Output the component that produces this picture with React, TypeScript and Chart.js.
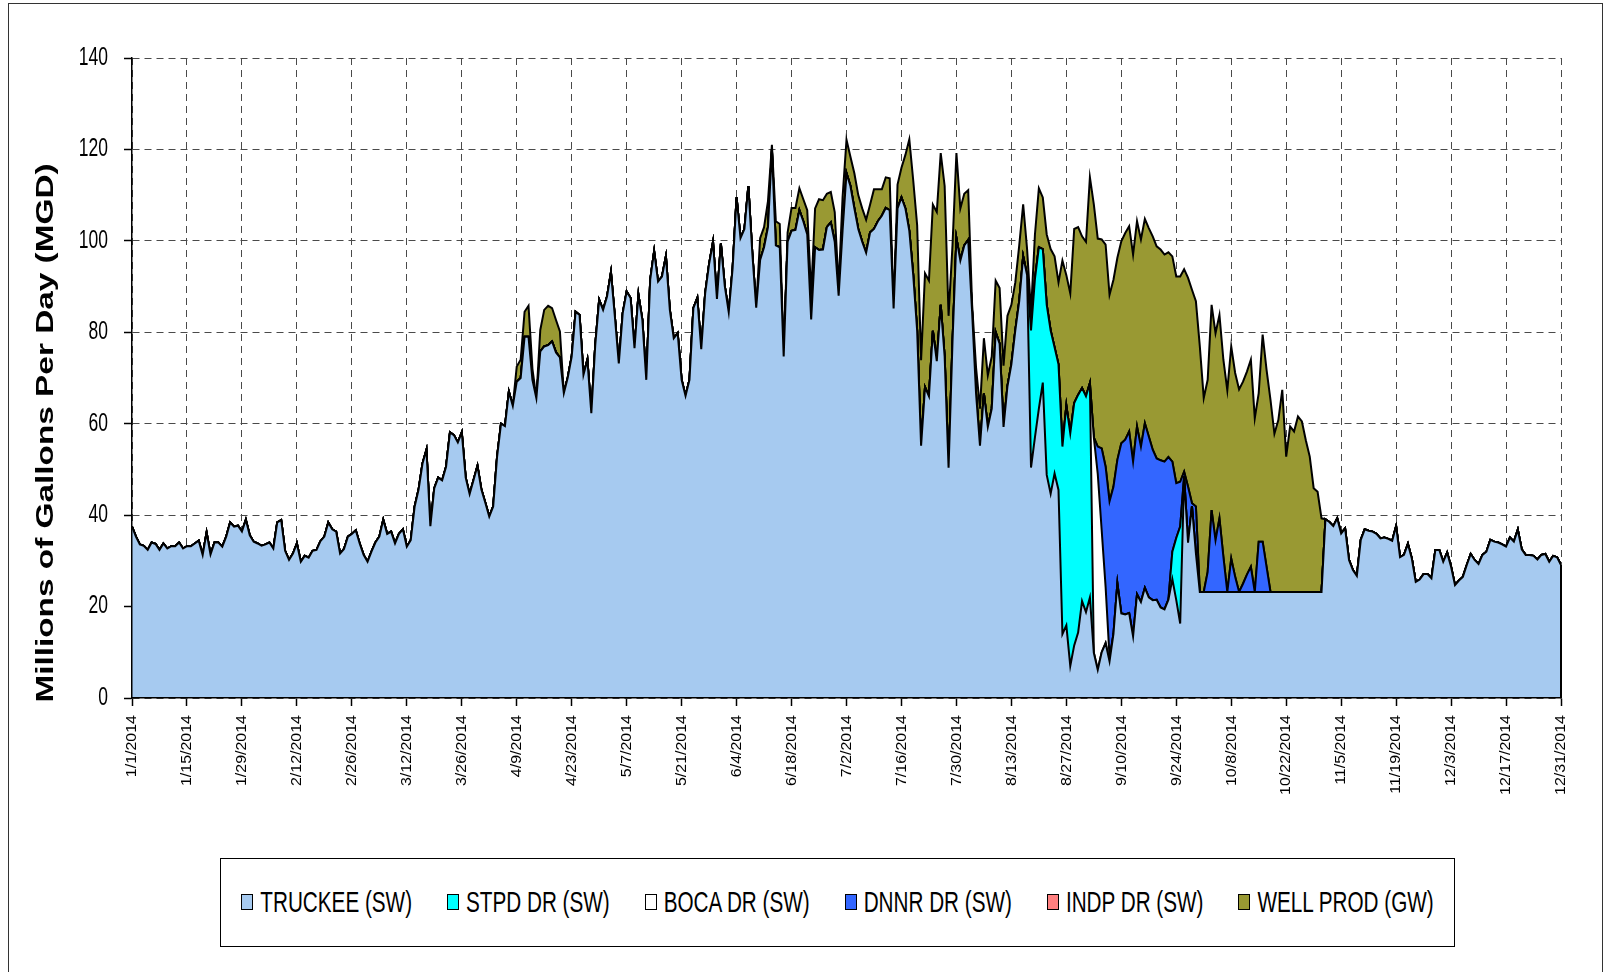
import React, { useEffect, useRef } from "react";
import { Chart, registerables } from "chart.js";

Chart.register(...registerables);

// ---------------- DATA ----------------
const YEAR_DAYS = 365;
const X_TICK_LABELS = [
  "1/1/2014", "1/15/2014", "1/29/2014", "2/12/2014", "2/26/2014", "3/12/2014", "3/26/2014",
  "4/9/2014", "4/23/2014", "5/7/2014", "5/21/2014", "6/4/2014", "6/18/2014", "7/2/2014",
  "7/16/2014", "7/30/2014", "8/13/2014", "8/27/2014", "9/10/2014", "9/24/2014", "10/8/2014",
  "10/22/2014", "11/5/2014", "11/19/2014", "12/3/2014", "12/17/2014", "12/31/2014",
];
const Y_TICK_LABELS = ["0", "20", "40", "60", "80", "100", "120", "140"];
const Y_TITLE = "Millions of Gallons Per Day (MGD)";
const SERIES_NAMES = ["TRUCKEE (SW)", "STPD DR (SW)", "BOCA DR (SW)", "DNNR DR (SW)", "INDP DR (SW)", "WELL PROD (GW)"];
const SERIES_COLORS = ["#A6CAF0", "#00FFFF", "#FFFFFF", "#3366FF", "#FF8080", "#999933"];

// daily values, 1/1/2014 .. 12/31/2014
const TRUCKEE = [
  37.5, 35.3, 33.6, 33.3, 32.4, 34.0, 33.7, 32.4, 33.8, 32.7,
  33.2, 33.2, 34.0, 32.7, 33.2, 33.2, 33.8, 34.4, 31.3, 36.2,
  31.4, 34.0, 34.0, 33.1, 35.3, 38.4, 37.5, 37.7, 36.4, 39.0,
  35.6, 34.2, 33.8, 33.3, 33.6, 34.0, 32.7, 38.4, 38.9, 32.2,
  30.2, 31.6, 33.8, 29.8, 31.1, 30.7, 32.2, 32.4, 34.3, 35.3,
  38.4, 36.9, 36.4, 31.6, 32.6, 35.3, 35.9, 36.7, 33.8, 31.3,
  29.8, 32.0, 34.0, 35.3, 39.0, 35.9, 36.4, 33.8, 35.9, 36.9,
  33.1, 34.5, 41.9, 45.6, 51.3, 54.3, 37.6, 45.9, 48.2, 47.6,
  50.6, 58.1, 57.5, 55.9, 58.1, 48.2, 44.6, 47.7, 50.8, 45.6,
  42.7, 39.7, 41.9, 52.8, 60.0, 59.5, 67.0, 63.9, 69.2, 70.0,
  79.0, 79.0, 69.6, 65.6, 75.8, 76.9, 77.2, 78.0, 75.6, 74.5,
  66.7, 70.1, 74.7, 84.5, 83.8, 70.7, 74.0, 62.3, 77.2, 87.1,
  84.9, 87.8, 93.1, 83.4, 73.2, 84.2, 88.9, 87.5, 76.5, 88.2,
  82.7, 69.6, 91.5, 97.7, 91.1, 92.2, 96.6, 84.9, 78.7, 79.8,
  69.6, 66.1, 69.6, 85.3, 87.5, 76.3, 88.5, 94.9, 99.8, 87.3,
  99.4, 90.1, 84.4, 94.1, 109.5, 100.6, 102.6, 112.0, 97.4, 85.4,
  95.8, 98.6, 103.0, 120.0, 99.0, 98.6, 74.7, 99.8, 102.2, 102.4,
  106.7, 104.3, 101.4, 82.8, 98.6, 98.0, 98.1, 103.0, 104.0, 99.8,
  88.0, 102.2, 114.8, 112.0, 107.1, 102.6, 99.8, 97.4, 101.8, 102.6,
  104.3, 105.5, 107.2, 106.7, 85.2, 107.1, 109.5, 107.1, 102.2, 92.5,
  80.3, 55.2, 68.0, 66.0, 80.3, 73.7, 86.0, 74.7, 50.4, 77.9,
  100.6, 95.7, 99.0, 100.2, 84.4, 66.6, 55.2, 66.6, 59.3, 63.3,
  80.0, 77.5, 59.3, 68.2, 73.0, 80.4, 86.8, 96.6, 92.5, 50.4,
  57.0, 63.3, 69.0, 48.8, 44.7, 49.1, 45.5, 14.0, 15.9, 7.0,
  11.5, 14.3, 21.2, 18.8, 22.0, 9.9, 6.2, 10.0, 12.0, 8.0,
  14.0, 25.1, 18.5, 18.3, 18.6, 13.5, 22.7, 21.0, 24.1, 22.0,
  21.4, 21.5, 19.8, 19.4, 21.5, 26.0, 21.4, 16.3, 48.5, 34.0,
  42.0, 31.7, 23.2, 23.2, 23.2, 23.2, 23.2, 23.2, 23.2, 23.2,
  23.2, 23.2, 23.2, 23.2, 23.2, 23.2, 23.2, 23.2, 23.2, 23.2,
  23.2, 23.2, 23.2, 23.2, 23.2, 23.2, 23.2, 23.2, 23.2, 23.2,
  23.2, 23.2, 23.2, 23.2, 39.1, 38.5, 37.6, 39.3, 36.0, 37.1,
  30.2, 28.0, 26.7, 34.6, 36.9, 36.6, 36.4, 35.9, 34.9, 35.1,
  34.8, 34.4, 37.6, 30.8, 31.3, 33.7, 30.5, 25.4, 25.9, 27.1,
  27.1, 26.2, 32.4, 32.4, 29.8, 31.8, 28.7, 24.7, 25.7, 26.5,
  29.1, 31.5, 30.2, 29.3, 31.3, 32.0, 34.6, 34.2, 34.0, 33.6,
  33.1, 35.1, 34.2, 36.8, 32.5, 31.3, 31.3, 31.1, 30.3, 31.3,
  31.5, 29.8, 31.1, 30.8, 29.1,
];

// STPD DR: values from 8/17 (day 228) to 9/25 (day 267); zero elsewhere
const STPD_DR_FROM = 228;
const STPD_DR = [
  0, 30.0, 34.7, 35.3, 29.2, 37.2, 35.7, 27.6, 27.5, 41.0,
  48.1, 50.9, 53.0, 52.0, 46.6, 47.2, 46.9, 0, 0, 0,
  0, 0, 0, 0, 0, 0, 0, 0, 0, 0,
  0, 0, 0, 0, 0, 0, 0, 6.0, 13.6, 21.2,
];

// BOCA DR: 9/3 (day 245) to 9/7
const BOCA_DR_FROM = 245;
const BOCA_DR = [47.1, 42.8, 26.7, 12.3, 1.0];

// DNNR DR: 9/4 (day 246) to 10/17 (day 289)
const DNNR_DR_FROM = 246;
const DNNR_DR = [
  6.0, 17.9, 26.3, 34.0, 32.2, 27.0, 37.2, 38.2, 39.7, 38.2,
  36.7, 34.0, 36.0, 35.2, 32.9, 30.9, 32.2, 32.3, 31.2, 19.7,
  12.0, 9.8, 1.0, 12.2, 0.6, 10.2, 0, 0, 4.4, 17.9,
  11.3, 16.1, 7.7, 0, 7.3, 3.3, 0, 1.8, 3.8, 5.5,
  0, 11.0, 11.0, 5.5,
];

// INDP DR: no flow in 2014
const INDP_DR_FROM = 0;
const INDP_DR: number[] = [];

// WELL PROD: spring (4/9..4/20) and summer-fall (6/10..10/31)
const WELL_PROD_SPRING_FROM = 98;
const WELL_PROD_SPRING = [3.3, 4.0, 5.5, 6.8, 2.4, 0, 4.7, 8.0, 8.6, 7.3, 7.1, 5.7];
const WELL_PROD_SUMMER_FROM = 160;
const WELL_PROD_SUMMER = [
  4.8, 4.4, 5.7, 1.0, 5.3, 5.1, 0, 2.0, 5.0, 4.8,
  4.8, 4.8, 5.3, 5.6, 8.5, 11.1, 10.8, 7.3, 6.7, 6.5,
  2.0, 7.3, 7.3, 6.4, 7.7, 7.4, 7.3, 7.2, 6.1, 8.7,
  7.0, 5.8, 6.7, 7.0, 0, 5.2, 6.5, 11.7, 20.0, 20.7,
  23.1, 18.7, 24.9, 25.3, 27.6, 32.6, 33.2, 37.3, 33.2, 21.1,
  18.6, 11.4, 11.3, 10.9, 1.6, 5.7, 8.1, 12.1, 11.3, 11.4,
  11.3, 12.2, 13.4, 15.4, 13.0, 10.5, 12.2, 11.4, 5.7, 4.0,
  9.7, 12.9, 11.3, 15.4, 17.8, 19.9, 17.9, 40.7, 28.5, 30.6,
  38.1, 36.7, 33.2, 33.8, 45.0, 51.0, 45.5, 45.7, 48.6, 45.2,
  45.3, 44.2, 44.2, 45.2, 44.9, 45.3, 44.9, 45.3, 44.7, 45.6,
  46.7, 46.4, 46.1, 45.3, 44.8, 44.9, 45.2, 44.9, 44.3, 45.7,
  46.7, 44.9, 53.7, 42.4, 42.0, 44.9, 45.3, 44.5, 43.1, 44.1,
  46.4, 44.6, 44.3, 44.2, 44.4, 45.3, 38.0, 32.5, 45.3, 43.1,
  42.0, 34.6, 37.6, 44.2, 29.6, 36.2, 35.1, 38.4, 37.3, 33.2,
  29.6, 22.7, 21.9, 16.1,
];

// ---------------- helpers ----------------
function fullYear(segments: Array<[number, number[]]>): number[] {
  const out: number[] = new Array(YEAR_DAYS).fill(0);
  segments.forEach(([from, vals]) => vals.forEach((v, i) => { out[from + i] = v; }));
  return out;
}

const K = 1.42; // vertical stretch of the original picture's text
const K_X = 1.03;
const K_TITLE = 1.45;
const FONT = '"Liberation Sans", Arial, sans-serif';

const textPlugin = {
  id: "stretchedText",
  afterDatasetsDraw(chart: any) {
    const ctx = chart.ctx;
    const xs = chart.scales.x;
    const ys = chart.scales.y;
    // right edge outline of the stacked area (Excel style)
    const last = YEAR_DAYS - 1;
    let total = 0;
    chart.data.datasets.forEach((ds: any) => { total += ds.data[last] || 0; });
    ctx.save();
    ctx.strokeStyle = "#000";
    ctx.lineWidth = 2;
    ctx.beginPath();
    ctx.moveTo(xs.getPixelForValue(last), ys.getPixelForValue(0));
    ctx.lineTo(xs.getPixelForValue(last), ys.getPixelForValue(total));
    ctx.stroke();
    ctx.restore();
  },
  afterDraw(chart: any) {
    const ctx = chart.ctx;
    const xs = chart.scales.x;
    const ys = chart.scales.y;
    ctx.save();
    ctx.fillStyle = "#000";
    // y tick labels
    ctx.font = `17.5px ${FONT}`;
    ctx.textAlign = "right";
    ctx.textBaseline = "middle";
    ys.ticks.forEach((t: any, i: number) => {
      const py = ys.getPixelForValue(t.value);
      ctx.save();
      ctx.translate(chart.chartArea.left - 24, py);
      ctx.scale(1, K);
      ctx.fillText(Y_TICK_LABELS[i] ?? String(t.value), 0, 0);
      ctx.restore();
    });
    // x tick labels (rotated)
    ctx.font = `15.5px ${FONT}`;
    xs.ticks.forEach((t: any, i: number) => {
      const px = xs.getPixelForValue(t.value);
      ctx.save();
      ctx.translate(px, chart.chartArea.bottom + 17);
      ctx.scale(1, K_X);
      ctx.rotate(-Math.PI / 2);
      ctx.textAlign = "right";
      ctx.textBaseline = "middle";
      ctx.fillText(X_TICK_LABELS[i] ?? "", 0, 0);
      ctx.restore();
    });
    // y title
    ctx.font = `bold 23px ${FONT}`;
    ctx.save();
    ctx.translate(47, 433);
    ctx.scale(1, K_TITLE);
    ctx.rotate(-Math.PI / 2);
    ctx.textAlign = "center";
    ctx.textBaseline = "middle";
    ctx.fillText(Y_TITLE, 0, 0);
    ctx.restore();
    ctx.restore();
  },
};

export default function App() {
  const canvasRef = useRef<HTMLCanvasElement | null>(null);

  useEffect(() => {
    if (!canvasRef.current) return;
    const days = Array.from({ length: YEAR_DAYS }, (_, i) => i);
    const seriesData = [
      TRUCKEE,
      fullYear([[STPD_DR_FROM, STPD_DR]]),
      fullYear([[BOCA_DR_FROM, BOCA_DR]]),
      fullYear([[DNNR_DR_FROM, DNNR_DR]]),
      fullYear([[INDP_DR_FROM, INDP_DR]]),
      fullYear([[WELL_PROD_SPRING_FROM, WELL_PROD_SPRING], [WELL_PROD_SUMMER_FROM, WELL_PROD_SUMMER]]),
    ];
    const gridCommon = {
      color: "#4a4a4a",
      lineWidth: 1,
      drawTicks: true,
      tickLength: 8,
      tickColor: "#000",
      tickWidth: 1.5,
      tickBorderDash: [],
    };
    const borderCommon = { display: true, color: "#000", width: 1.5, dash: [7, 5], z: 1 };
    const chart = new Chart(canvasRef.current, {
      type: "line",
      data: {
        labels: days,
        datasets: SERIES_NAMES.map((name, i) => ({
          label: name,
          data: seriesData[i],
          backgroundColor: SERIES_COLORS[i],
          borderColor: "#000",
          borderWidth: 2,
          fill: i === 0 ? "origin" : "-1",
          pointRadius: 0,
          tension: 0,
        })),
      },
      options: {
        responsive: false,
        animation: false,
        devicePixelRatio: 1,
        layout: { padding: { left: 122, right: 48, top: 58, bottom: 264 } },
        plugins: { legend: { display: false }, tooltip: { enabled: false } },
        scales: {
          x: {
            type: "linear",
            min: 0,
            max: YEAR_DAYS - 1,
            afterFit: (s: any) => { s.height = 10; },
            ticks: { display: false, stepSize: 14, maxTicksLimit: 100 },
            grid: gridCommon,
            border: borderCommon,
          },
          y: {
            stacked: true,
            min: 0,
            max: 140,
            afterFit: (s: any) => { s.width = 10; },
            ticks: { display: false, stepSize: 20, maxTicksLimit: 100 },
            grid: gridCommon,
            border: borderCommon,
          },
        },
      } as any,
      plugins: [textPlugin],
    });
    return () => chart.destroy();
  }, []);

  return (
    <div style={{ position: "fixed", left: 0, top: 0, width: 1609, height: 972, overflow: "hidden", background: "#fff" }}>
      <div style={{ position: "absolute", left: 8, top: 3, width: 1595, height: 1000, border: "1px solid #333", boxSizing: "border-box" }} />
      <canvas ref={canvasRef} width={1609} height={972} style={{ position: "absolute", left: 0, top: 0 }} />
      <div
        style={{
          position: "absolute", left: 220, top: 858, width: 1235, height: 89,
          border: "1.5px solid #000", boxSizing: "border-box", background: "#fff",
          display: "flex", justifyContent: "center", alignItems: "center", gap: 35,
        }}
      >
        {SERIES_NAMES.map((name, i) => (
          <div key={name} style={{ display: "flex", alignItems: "center" }}>
            <span style={{ display: "inline-block", width: 12, height: 16, background: SERIES_COLORS[i], border: "1.5px solid #000", boxSizing: "border-box", marginRight: 7 }} />
            <span style={{ display: "inline-block", font: `20.7px ${FONT}`, lineHeight: 1, whiteSpace: "nowrap", transform: `scaleY(${K})` }}>{name}</span>
          </div>
        ))}
      </div>
    </div>
  );
}
